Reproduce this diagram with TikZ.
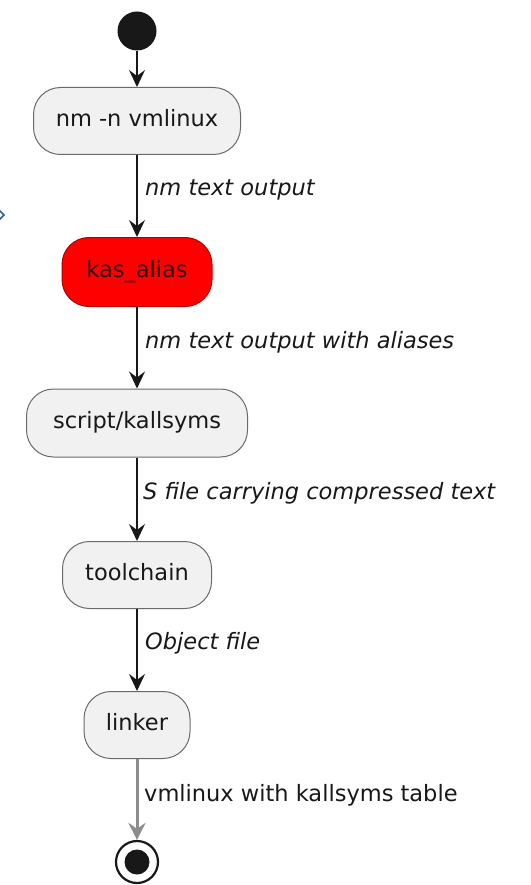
\documentclass[tikz,border=0pt]{standalone}
\usepackage{fontspec}
\setmainfont{DejaVu Sans}
\usetikzlibrary{arrows.meta}
\definecolor{boxfill}{HTML}{F1F1F1}
\definecolor{boxline}{HTML}{6A6A6A}
\definecolor{ink}{HTML}{181818}
\definecolor{lastflow}{HTML}{8C8C8C}
\definecolor{alertred}{HTML}{FF0000}
\definecolor{alertline}{HTML}{B00000}
\definecolor{navy}{HTML}{2F5E9E}
\begin{document}
\begin{tikzpicture}[x=1pt,y=-1pt,
  every node/.style={font=\fontsize{22.5}{26}\selectfont},
  activity/.style={draw=boxline, line width=1pt, fill=boxfill, text=ink,
    rounded corners=27pt, inner sep=0pt, text height=16pt, text depth=5pt},
  flow/.style={draw=ink, line width=1.6pt,
    -{Stealth[length=17pt, width=16pt, inset=6pt]}},
  lastarrow/.style={draw=lastflow, line width=3pt,
    -{Stealth[length=17pt, width=17pt, inset=6pt]}},
  flowlabel/.style={anchor=west, inner sep=0pt, text=ink, font=\fontsize{22.5}{26}\selectfont\itshape}
]
\useasboundingbox (0,0) rectangle (530,885);
\fill[white] (0,0) rectangle (530,885);

% start and end points
\node[circle, fill=ink, minimum size=39pt, inner sep=0pt] (start) at (137,31) {};
\node[circle, draw=ink, line width=2.2pt, fill=white, minimum size=42pt, inner sep=0pt] (stop) at (137,862) {};
\fill[ink] (stop.center) circle (12.5pt);

% activities
\node[activity, minimum width=207pt, minimum height=67pt] (nm) at (137,121) {nm -n vmlinux};
\node[activity, minimum width=150pt, minimum height=69pt, fill=alertred, draw=alertline, text={rgb,255:red,50;green,0;blue,0}] (alias) at (137,272) {kas\_alias};
\node[activity, minimum width=221pt, minimum height=68pt] (ks) at (137,423) {script/kallsyms};
\node[activity, minimum width=149pt, minimum height=67pt] (tc) at (137,575) {toolchain};
\node[activity, minimum width=106pt, minimum height=67pt] (ld) at (137,725) {linker};

% flows
\draw[flow] (start) -- (nm);
\draw[flow] (nm) -- (alias);
\draw[flow] (alias) -- (ks);
\draw[flow] (ks) -- (tc);
\draw[flow] (tc) -- (ld);
\draw[lastarrow] (ld) -- (stop);

% flow labels
\node[flowlabel] (l1) at (145,190) {nm text output};
\node[flowlabel] (l2) at (145,342) {nm text output with aliases};
\node[flowlabel] (l3) at (143,493) {S file carrying compressed text};
\node[flowlabel] (l4) at (145,643) {Object file};
\node[flowlabel, font=\fontsize{22.5}{26}\selectfont] (l5) at (144,795) {vmlinux with kallsyms table};

% small chevron at the left edge
\draw[navy, line width=1.6pt] (-2,209) -- (4,215) -- (-2,221);
\end{tikzpicture}
\end{document}
